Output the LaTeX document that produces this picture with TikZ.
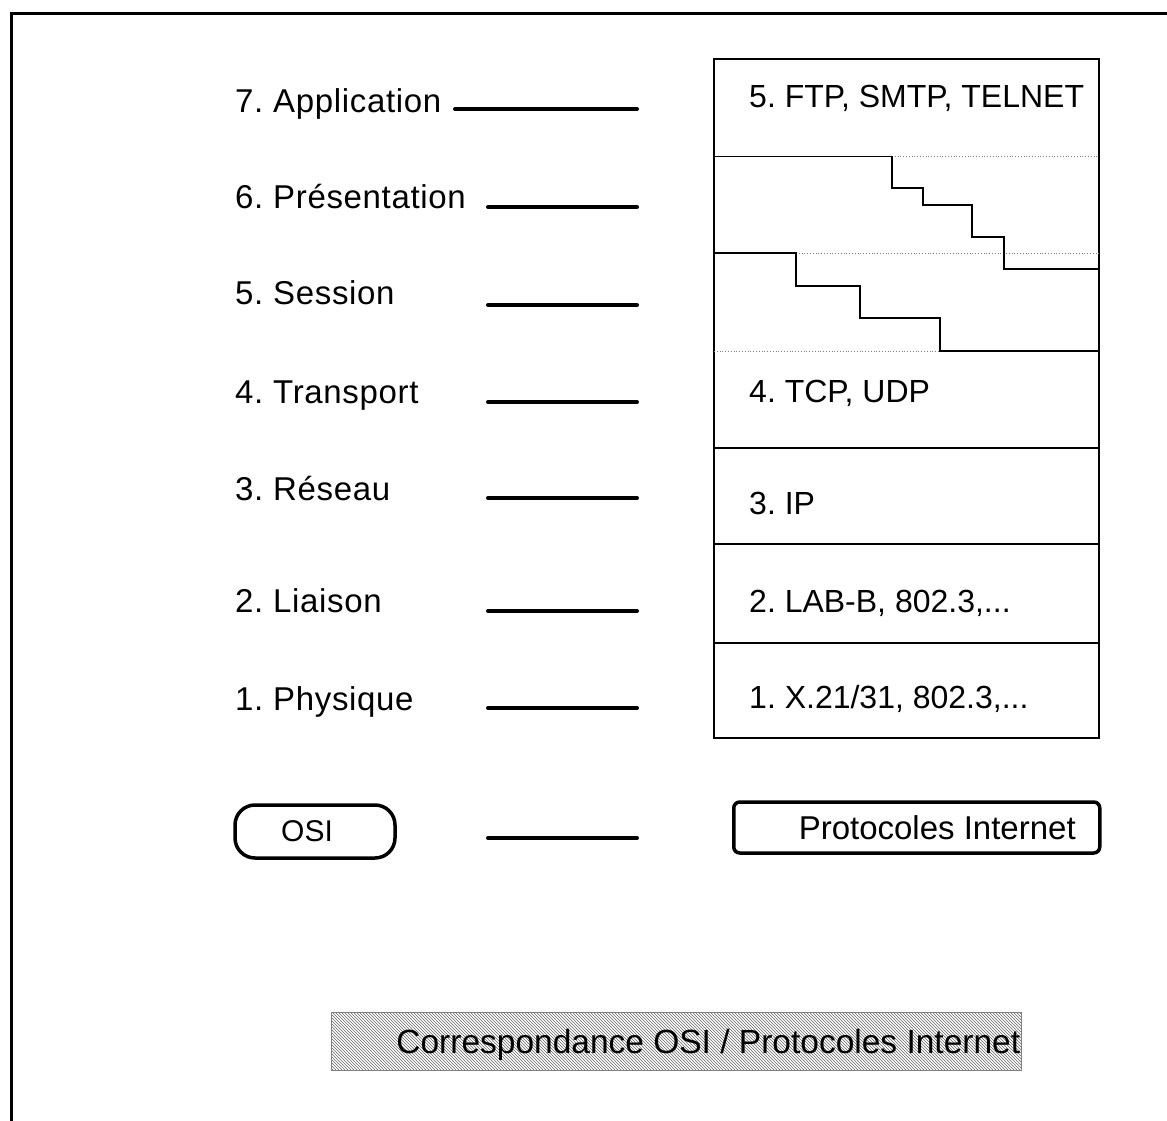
\documentclass[tikz,border=0pt]{standalone}
\usepackage{fontspec}
\setmainfont{Liberation Sans}
\newfontfamily\osifont[LetterSpace=2]{Liberation Sans}
\frenchspacing
\usetikzlibrary{patterns,calc}

\begin{document}
\begin{tikzpicture}[x=1pt, y=-1pt,
    every node/.style={inner sep=0pt, font=\fontsize{33}{38}\selectfont},
    layer/.style={anchor=base west, font=\osifont\fontsize{33}{38}\selectfont},
    proto/.style={anchor=base west, font=\fontsize{32}{38}\selectfont},
    tie/.style={line width=4pt, line cap=round},
    sep/.style={line width=2pt},
    dotline/.style={gray, dotted, line width=0.8pt}]
  \useasboundingbox (0,0) rectangle (1167,1121);
  % cadre
  \draw[line width=3pt] (11,1140) -- (11,14) -- (1180,14);
  % couches OSI et traits
  \foreach \n/\txt/\y/\x/\ly in {7/7. Application/113/455/109,
      6/6. Présentation/208/488/207, 5/5. Session/304/488/305,
      4/4. Transport/403/488/402, 3/3. Réseau/500/488/498,
      2/2. Liaison/612/488/611, 1/1. Physique/710/488/708} {
    \node[layer] (osi\n) at (235,\y) {\txt};
    \draw[tie] (\x,\ly) -- (637,\ly);
  }
  % pile Internet
  \draw[sep] (714,59) rectangle (1099,738);
  \foreach \y in {448,544,643}
    \draw[sep] (714,\y) -- (1099,\y);
  \draw[line width=1pt] (714,156) -- (892,156);
  \draw[dotline] (892,156) -- (1099,156);
  \draw[dotline] (796,253) -- (1099,253);
  \draw[dotline] (714,351) -- (940,351);
  \draw[sep] (892,156) |- (923,188) |- (972,205) |- (1004,237) |- (1099,269);
  \draw[sep] (714,253) -- (796,253) |- (860,286) |- (940,318) |- (1099,351);
  \node[proto] (app) at (749,108) {5. FTP, SMTP, TELNET};
  \node[proto] (tcp) at (749,402) {4. TCP, UDP};
  \node[proto] (ip)  at (749,514) {3. IP};
  \node[proto] (lab) at (749,612) {2. LAB-B, 802.3,...};
  \node[proto] (phy) at (749,708) {1. X.21/31, 802.3,...};
  % legende
  \node[draw, line width=3.5pt, rounded corners=20pt, minimum width=160pt,
    minimum height=53pt, font=\fontsize{30}{36}\selectfont] (osi) at (315,831.5) {OSI\hspace*{16pt}};
  \draw[tie] (488,838) -- (637,838);
  \node[draw, line width=3.5pt, rounded corners=6pt, minimum height=51pt,
    anchor=west] (inet) at (732,827.5) {\hspace*{65pt}Protocoles Internet\hspace*{24pt}};
  % titre
  \node[draw=gray, line width=0.8pt, pattern=north west lines, pattern color=black!60,
    minimum height=58pt, anchor=west, text depth=0pt,
    font=\fontsize{33.5}{38}\selectfont] (titre) at (331,1041)
    {\hspace*{65pt}Correspondance OSI / Protocoles Internet\hspace*{1pt}};
\end{tikzpicture}
\end{document}
